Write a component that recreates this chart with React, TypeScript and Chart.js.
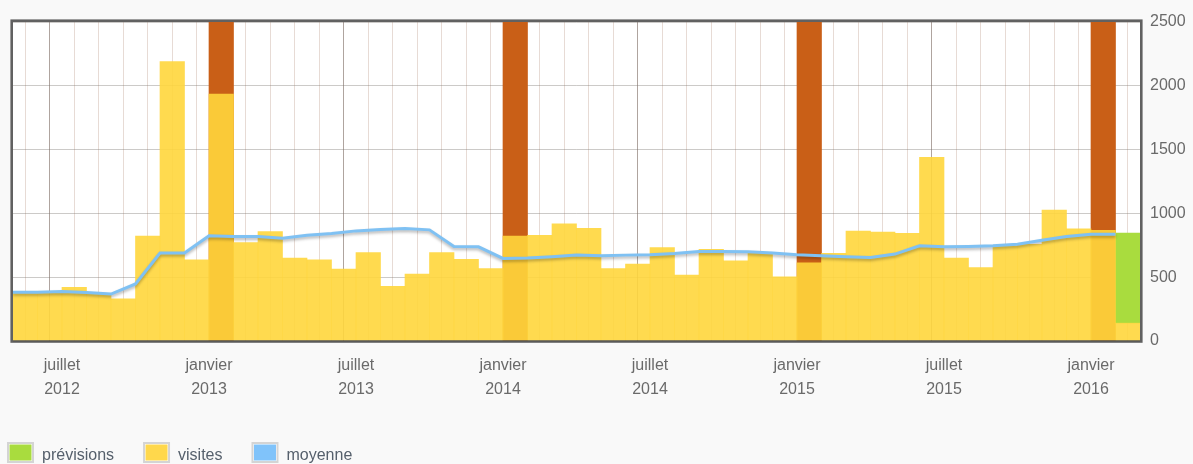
import React, { useEffect, useRef } from "react";
import { Chart, registerables } from "chart.js";

Chart.register(...registerables);

// Months from mai 2012 to février 2016 (46 months)
const MONTHS: string[] = [
  "2012-05", "2012-06", "2012-07", "2012-08", "2012-09", "2012-10", "2012-11", "2012-12",
  "2013-01", "2013-02", "2013-03", "2013-04", "2013-05", "2013-06", "2013-07", "2013-08",
  "2013-09", "2013-10", "2013-11", "2013-12", "2014-01", "2014-02", "2014-03", "2014-04",
  "2014-05", "2014-06", "2014-07", "2014-08", "2014-09", "2014-10", "2014-11", "2014-12",
  "2015-01", "2015-02", "2015-03", "2015-04", "2015-05", "2015-06", "2015-07", "2015-08",
  "2015-09", "2015-10", "2015-11", "2015-12", "2016-01", "2016-02",
];

const VISITES: number[] = [
  390, 374, 420, 372, 330, 822, 2190, 636,
  1935, 772, 857, 650, 636, 563, 693, 428,
  524, 693, 641, 568, 823, 828, 919, 883,
  568, 602, 732, 516, 719, 628, 688, 503,
  612, 688, 862, 854, 844, 1440, 649, 576,
  745, 758, 1026, 880, 868, 140,
];

const MOYENNE: number[] = [
  382, 382, 388, 380, 368, 447, 689, 689,
  824, 819, 819, 806, 829, 842, 863, 873,
  881, 871, 741, 738, 647, 650, 660, 673,
  668, 673, 676, 686, 702, 702, 699, 689,
  676, 668, 660, 655, 681, 746, 738, 741,
  746, 759, 790, 819, 837, 837,
];

// prévisions (stacked on top of visits) for the last month
const PREVISIONS: (number | null)[] = MONTHS.map((m) => (m === "2016-02" ? 705 : null));

// year-change markers (janvier), full height
const JANVIER_MARK: number = 2500;

const MONTH_NAMES: Record<string, string> = { "01": "janvier", "07": "juillet" };

const Y_MAX = 2500;
const Y_STEP = 500;

const C_GREEN = "#a9dc3e";
const C_YELLOW = "rgba(255,214,60,0.9)";
const C_YELLOW_LEGEND = "#ffd84c";
const C_BLUE = "#7fc1f3";
const C_ORANGE = "#c95f17";

const FONT_FAMILY = '"Liberation Sans", Arial, Helvetica, sans-serif';

function tickLabel(v: number): string | string[] {
  const m = MONTHS[v];
  if (!m) return "";
  const [yr, mo] = m.split("-");
  const name = MONTH_NAMES[mo];
  return name ? [name, yr] : "";
}

const bgPlugin = {
  id: "bgPlugin",
  beforeDraw(chart: any) {
    const { ctx, chartArea, width, height } = chart;
    ctx.save();
    ctx.fillStyle = "#f9f9f9";
    ctx.fillRect(0, 0, width, height);
    ctx.fillStyle = "#ffffff";
    ctx.fillRect(chartArea.left, chartArea.top, chartArea.right - chartArea.left, chartArea.bottom - chartArea.top);
    ctx.restore();
  },
};

const shadowPlugin = {
  id: "lineShadow",
  beforeDatasetDraw(chart: any, args: any) {
    const ds = chart.data.datasets[args.index];
    if (ds.type === "line") {
      const ctx = chart.ctx;
      ctx.save();
      ctx.shadowColor = "rgba(0,0,0,0.28)";
      ctx.shadowBlur = 3;
      ctx.shadowOffsetX = 0;
      ctx.shadowOffsetY = 2;
    }
  },
  afterDatasetDraw(chart: any, args: any) {
    const ds = chart.data.datasets[args.index];
    if (ds.type === "line") chart.ctx.restore();
  },
};

const framePlugin = {
  id: "framePlugin",
  afterDatasetsDraw(chart: any) {
    const { ctx, chartArea } = chart;
    ctx.save();
    ctx.strokeStyle = "rgba(70,70,70,0.85)";
    ctx.lineWidth = 2.6;
    ctx.strokeRect(chartArea.left - 1.3, chartArea.top - 1.3, chartArea.right - chartArea.left + 2.6, chartArea.bottom - chartArea.top + 1.8);
    ctx.restore();
  },
};

const legendPlugin = {
  id: "bottomLegend",
  afterDraw(chart: any) {
    const ctx = chart.ctx;
    const items = chart.data.datasets
      .filter((d: any) => d.showInLegend)
      .sort((a: any, b: any) => a.legendOrder - b.legendOrder);
    ctx.save();
    ctx.font = `16px ${FONT_FAMILY}`;
    ctx.textBaseline = "alphabetic";
    let x = 7;
    const y = 442;
    items.forEach((d: any) => {
      ctx.fillStyle = "#d4d4d4";
      ctx.fillRect(x, y, 27, 21);
      ctx.fillStyle = "#ffffff";
      ctx.fillRect(x + 2, y + 2, 23, 17);
      ctx.fillStyle = d.legendColor;
      ctx.fillRect(x + 2.5, y + 2.5, 22, 16);
      ctx.fillStyle = "#56606c";
      ctx.fillText(d.label, x + 35, 460);
      x = x + 35 + ctx.measureText(d.label).width + 29;
    });
    ctx.restore();
  },
};

export default function App() {
  const ref = useRef<HTMLCanvasElement | null>(null);

  useEffect(() => {
    if (!ref.current) return;
    const font = { family: FONT_FAMILY, size: 16, lineHeight: 1.5 };
    const chart = new Chart(ref.current, {
      data: {
        datasets: [
          {
            type: "line",
            label: "moyenne",
            data: MOYENNE.map((v, i) => ({ x: i, y: v })),
            borderColor: C_BLUE,
            borderWidth: 3,
            pointRadius: 0,
            tension: 0,
            fill: false,
            order: 0,
            stack: "avg",
            showInLegend: true,
            legendOrder: 2,
            legendColor: "#80c3fa",
          } as any,
          {
            type: "bar",
            label: "visites",
            data: VISITES.map((v, i) => ({ x: i + 0.5, y: v })),
            backgroundColor: C_YELLOW,
            borderWidth: 0,
            grouped: false,
            barPercentage: 1,
            categoryPercentage: 1,
            stack: "v",
            order: 1,
            showInLegend: true,
            legendOrder: 1,
            legendColor: C_YELLOW_LEGEND,
          } as any,
          {
            type: "bar",
            label: "prévisions",
            data: PREVISIONS.map((v, i) => ({ x: i + 0.5, y: v })),
            backgroundColor: C_GREEN,
            borderWidth: 0,
            grouped: false,
            barPercentage: 1,
            categoryPercentage: 1,
            stack: "v",
            order: 2,
            showInLegend: true,
            legendOrder: 0,
            legendColor: C_GREEN,
          } as any,
          {
            type: "bar",
            label: "janvier",
            data: MONTHS.map((m, i) => ({ x: i + 0.5, y: m.endsWith("-01") ? JANVIER_MARK : null })),
            backgroundColor: C_ORANGE,
            borderWidth: 0,
            grouped: false,
            barPercentage: 1,
            categoryPercentage: 1,
            stack: "j",
            order: 3,
            showInLegend: false,
          } as any,
        ],
      },
      options: {
        animation: false,
        responsive: false,
        devicePixelRatio: 1,
        layout: { padding: { left: 12, top: 22, right: 0, bottom: 0 } },
        plugins: {
          legend: { display: false },
          tooltip: { enabled: false },
        },
        scales: {
          x: {
            type: "linear",
            min: 0,
            max: MONTHS.length,
            offset: false,
            afterBuildTicks: (s: any) => {
              s.ticks = Array.from({ length: MONTHS.length + 1 }, (_, i) => ({ value: i }));
            },
            afterFit: (s: any) => {
              s.height = 123;
            },
            ticks: {
              autoSkip: false,
              maxRotation: 0,
              minRotation: 0,
              padding: 13,
              color: "#6a6a6a",
              font,
              callback: (v: any) => tickLabel(Number(v)),
            },
            grid: {
              drawTicks: false,
              lineWidth: 1,
              color: (c: any) => {
                const m = MONTHS[c.tick?.value];
                if (m && m.endsWith("-07")) return "rgba(110,90,80,0.55)";
                return "rgba(175,135,115,0.3)";
              },
            },
            border: { display: false },
          },
          y: {
            position: "right",
            min: 0,
            max: Y_MAX,
            stacked: true,
            afterFit: (s: any) => {
              s.width = 53;
            },
            ticks: {
              stepSize: Y_STEP,
              padding: 10,
              color: "#6a6a6a",
              font,
              callback: (v: any) => String(v),
            },
            grid: {
              drawTicks: false,
              color: "rgba(120,115,110,0.38)",
              lineWidth: 1,
            },
            border: { display: false },
          },
        },
      } as any,
      plugins: [bgPlugin, shadowPlugin, framePlugin, legendPlugin],
    });
    return () => chart.destroy();
  }, []);

  return (
    <div style={{ position: "fixed", left: 0, top: 0, width: 1193, height: 464, background: "#f9f9f9" }}>
      <canvas ref={ref} width={1193} height={464} style={{ display: "block", width: 1193, height: 464 }} />
    </div>
  );
}
